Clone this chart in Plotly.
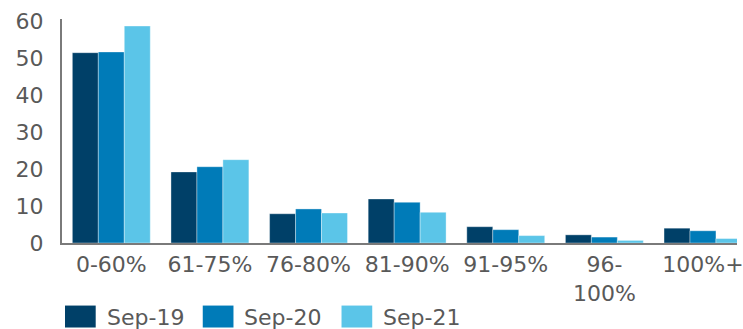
import plotly.graph_objects as go

# Distribution by band, three September snapshots
categories = ["0-60%", "61-75%", "76-80%", "81-90%", "91-95%", "96-<br>100%", "100%+"]
series_names = ["Sep-19", "Sep-20", "Sep-21"]
sep19 = [51.4, 19.2, 7.9, 11.9, 4.4, 2.2, 4.0]
sep20 = [51.6, 20.6, 9.2, 11.0, 3.6, 1.6, 3.3]
sep21 = [58.6, 22.5, 8.1, 8.3, 2.0, 0.7, 1.2]
y_ticks = [0, 10, 20, 30, 40, 50, 60]

colors = ["#004068", "#007BB8", "#5BC5E8"]
font_family = "DejaVu Sans, Verdana, sans-serif"
text_color = "#595959"
axis_color = "#7a7a7a"

W, H = 743, 329
fig = go.Figure()
for name, vals, col in zip(series_names, [sep19, sep20, sep21], colors):
    fig.add_trace(go.Bar(
        name=name, x=categories, y=vals,
        marker=dict(color=col, line=dict(width=0.6, color="rgba(255,255,255,0.6)")),
        showlegend=False,
    ))

# Legend drawn as coloured blocks with labels underneath the plot
legend_x = [65, 204, 344]
for name, col, lx in zip(series_names, colors, legend_x):
    fig.add_shape(type="rect", xref="paper", yref="paper",
                  x0=(lx - 62) / (W - 62), x1=(lx + 31 - 62) / (W - 62),
                  y0=-(306 - 243.3) / (243.3 - 18.8) - 22 / (243.3 - 18.8),
                  y1=-(306 - 243.3) / (243.3 - 18.8),
                  fillcolor=col, line=dict(width=0))
    fig.add_annotation(text=name, xref="paper", yref="paper",
                       x=(lx + 40 - 62) / (W - 62), xanchor="left",
                       y=-(318 - 243.3) / (243.3 - 18.8), yanchor="middle",
                       showarrow=False, font=dict(size=22, color=text_color, family=font_family))

fig.update_layout(
    width=W, height=H,
    margin=dict(l=62, r=0, t=18.8, b=329 - 243.3),
    paper_bgcolor="white", plot_bgcolor="white",
    barmode="group", bargap=0.21, bargroupgap=0,
    font=dict(family=font_family, size=22, color=text_color),
    xaxis=dict(range=[-0.5, 6.345], showline=True, linecolor=axis_color, linewidth=2,
               showgrid=False, ticks="", ticklabelstandoff=1, fixedrange=True),
    yaxis=dict(range=[0, 60.5], tickvals=y_ticks, showline=True, linecolor=axis_color,
               linewidth=2, showgrid=False, zeroline=False, ticks="",
               ticklabelstandoff=12),
    showlegend=False,
)

fig.write_html("out.html")
